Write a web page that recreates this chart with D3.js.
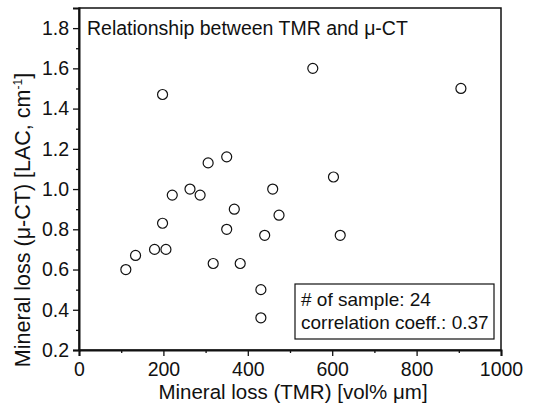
<!DOCTYPE html>
<html><head><meta charset="utf-8">
<script src="https://cdn.jsdelivr.net/npm/d3@7"></script>
<style>body{margin:0;background:#fff}text{font-family:"Liberation Sans",Arial,sans-serif;fill:#111}</style>
</head><body>
<svg id="c" width="533" height="404"></svg>
<script>
const tmrLoss = [111,134,179,206,198,221,263,287,306,350,198,318,350,368,382,431,431,440,474,459,619,603,554,905];
const ctLoss  = [0.60,0.67,0.70,0.70,0.83,0.97,1.00,0.97,1.13,1.16,1.47,0.63,0.80,0.90,0.63,0.50,0.36,0.77,0.87,1.00,0.77,1.06,1.60,1.50];
const xTicks = [0,200,400,600,800,1000];
const yTicks = [0.2,0.4,0.6,0.8,1.0,1.2,1.4,1.6,1.8];
const titleText = "Relationship between TMR and \u03bc-CT";
const legendLines = ["# of sample: 24","correlation coeff.: 0.37"];

const svg = d3.select("#c");
const L=79, R=501, T=8, B=350;
const x = d3.scaleLinear().domain([0,1000]).range([L,R]);
const y = d3.scaleLinear().domain([0.2,1.9]).range([B,T]);

// frame
svg.append("rect").attr("x",L).attr("y",T).attr("width",R-L).attr("height",B-T)
  .attr("fill","none").attr("stroke","#111").attr("stroke-width",1.5);

// minor ticks
const xMinor = d3.range(100,1000,200);
const yMinor = d3.range(0.3,1.9,0.2);
svg.append("g").attr("transform",`translate(0,${B})`)
  .call(d3.axisBottom(x).tickValues(xTicks).tickFormat(d3.format("d")).tickSize(6).tickPadding(6));
svg.append("g").attr("transform",`translate(0,${B})`)
  .call(d3.axisBottom(x).tickValues(xMinor).tickFormat("").tickSize(3)).select(".domain").remove();
svg.append("g").attr("transform",`translate(${L},0)`)
  .call(d3.axisLeft(y).tickValues(yTicks).tickFormat(d3.format(".1f")).tickSize(6).tickPadding(4));
svg.append("g").attr("transform",`translate(${L},0)`)
  .call(d3.axisLeft(y).tickValues(yMinor).tickFormat("").tickSize(3)).select(".domain").remove();

svg.selectAll(".domain").attr("stroke","#111").attr("stroke-width",2);
svg.selectAll(".tick line").attr("stroke","#111").attr("stroke-width",1.3);
svg.selectAll(".tick text").style("font-size","19.5px").attr("fill","#111")
  .style("font-family",'"Liberation Sans",Arial,sans-serif');

// points
svg.append("g").selectAll("circle").data(tmrLoss.map((v,i)=>[v,ctLoss[i]])).join("circle")
  .attr("cx",d=>x(d[0])).attr("cy",d=>y(d[1])).attr("r",5)
  .attr("fill","none").attr("stroke","#111").attr("stroke-width",1.2);

// title
svg.append("text").attr("x",87).attr("y",35).style("font-size","19.5px").text(titleText);

// legend
svg.append("rect").attr("x",295).attr("y",284).attr("width",199).attr("height",55)
  .attr("fill","#fff").attr("stroke","#111").attr("stroke-width",1.2);
svg.append("text").attr("x",301).attr("y",306).style("font-size","19px").text(legendLines[0]);
svg.append("text").attr("x",301).attr("y",329).style("font-size","19px").text(legendLines[1]);

// axis titles
svg.append("text").attr("x",293).attr("y",399).attr("text-anchor","middle")
  .style("font-size","20.5px").text("Mineral loss (TMR) [vol% \u03bcm]");
const yl = svg.append("text").attr("transform","translate(30,220) rotate(-90)")
  .attr("text-anchor","middle").style("font-size","21.5px");
yl.append("tspan").text("Mineral loss (\u03bc-CT) [LAC, cm");
yl.append("tspan").attr("dy",-8).style("font-size","12px").text("-1");
yl.append("tspan").attr("dy",8).text("]");
</script>
</body></html>
